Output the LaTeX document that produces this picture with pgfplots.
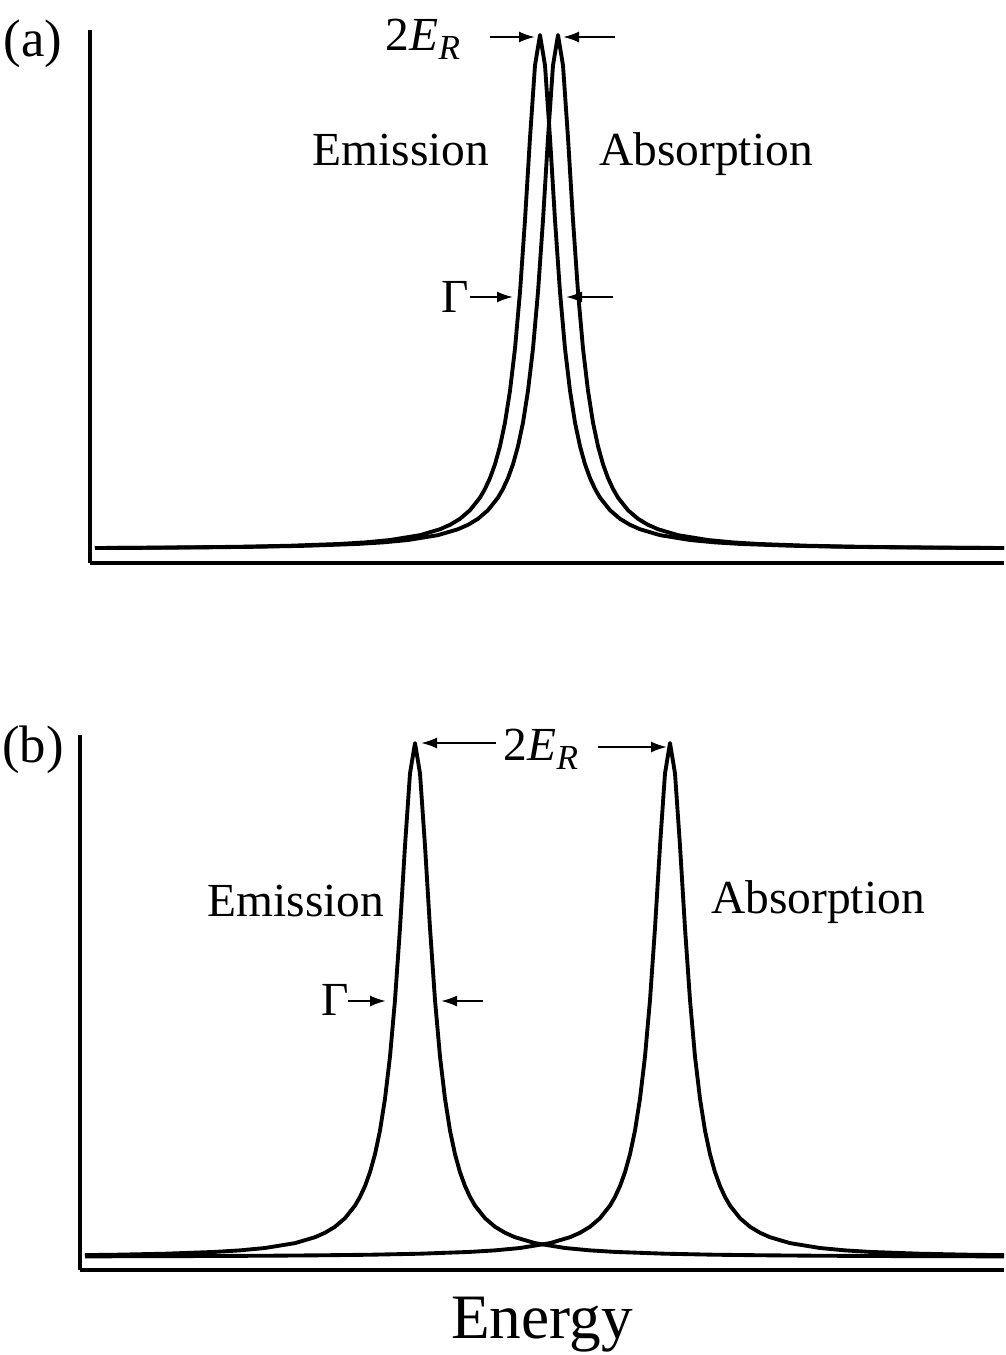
\documentclass[border=0pt]{standalone}
\usepackage{fontspec}
\setmainfont{Liberation Serif}
\usepackage{pgfplots}
\pgfplotsset{compat=1.18}
\usetikzlibrary{arrows.meta}

\pgfplotsset{
  spec/.style={
    scale only axis,
    axis x line=bottom, axis y line=left,
    axis line style={-, line width=1.1pt, black},
    xtick=\empty, ytick=\empty,
    clip=false,
  },
  curve/.style={black, line width=1.1pt, no markers, line join=round},
}
\tikzset{
  lbl/.style={font=\fontsize{13.5}{15}\selectfont, inner sep=0pt},
  arr/.style={line width=0.6pt, -{Latex[length=1.6mm, width=1.1mm]}},
}
\newcommand{\ER}{2\textit{E}\raisebox{-0.45ex}{\fontsize{10}{12}\selectfont\textit{R}}}

\begin{document}
\begin{tikzpicture}
% annotations, in pixel units of the reference (y downwards)
\begin{scope}[x=0.1mm, y=-0.1mm]
  \path[use as bounding box] (0,0) rectangle (1004,1355);
  % panel (a)
  \node[lbl, font=\fontsize{15}{17}\selectfont] at (33,44) {(a)};
  \node[lbl, anchor=base] at (423,50) {\ER};
  \draw[arr] (490,37) -- (535,37);
  \draw[arr] (615,37) -- (563,37);
  \node[lbl, anchor=base] at (401,165) {Emission};
  \node[lbl, anchor=base] at (706,165) {Absorption};
  \node[lbl] at (455,297) {Γ};
  \draw[arr] (470,297) -- (513,297);
  \draw[arr] (613,297) -- (566,297);
  % panel (b)
  \node[lbl, font=\fontsize{15}{17}\selectfont] at (33,750) {(b)};
  \node[lbl, anchor=base] at (541,760) {\ER};
  \draw[arr] (496,743) -- (421,743);
  \draw[arr] (598,747) -- (667,747);
  \node[lbl, anchor=base] at (296,916) {Emission};
  \node[lbl, anchor=base] at (818,913) {Absorption};
  \node[lbl] at (335,1000) {Γ};
  \draw[arr] (348,1001) -- (386,1001);
  \draw[arr] (483,1001) -- (441,1001);
  \node[lbl, anchor=base, font=\fontsize{18}{20}\selectfont] at (542,1338) {Energy};
\end{scope}

% panel (a)
\begin{axis}[spec, at={(9mm,-56.3mm)}, anchor=south west,
  width=91.4mm, height=53.3mm,
  xmin=90, xmax=1004, ymin=-0.0272, ymax=1.0097]
% emission
\addplot[curve] coordinates {
 (95,0.0020) (140,0.0025) (190,0.0033) (240,0.0044) (290,0.0064) (340,0.0099)
 (365,0.0129) (390,0.0175) (420,0.027) (440,0.0385) (450,0.0471) (460,0.0588)
 (470,0.0755) (480,0.1) (485,0.117) (490,0.138) (495,0.165) (500,0.2)
 (505,0.246) (510,0.308) (515,0.39) (520,0.5) (525,0.64) (530,0.8) (535,0.941)
 (540,1)
 (545,0.941) (550,0.8) (555,0.64) (560,0.5) (565,0.39) (570,0.308) (575,0.246)
 (580,0.2) (585,0.165) (590,0.138) (595,0.117) (600,0.1) (610,0.0755)
 (620,0.0588) (630,0.0471) (640,0.0385) (660,0.027) (690,0.0175) (715,0.0129)
 (740,0.0099) (790,0.0064) (840,0.0044) (890,0.0033) (940,0.0025) (1004,0.0019)
};
% absorption
\addplot[curve] coordinates {
 (95,0.0019) (158,0.0025) (208,0.0033) (258,0.0044) (308,0.0064) (358,0.0099)
 (383,0.0129) (408,0.0175) (438,0.027) (458,0.0385) (468,0.0471) (478,0.0588)
 (488,0.0755) (498,0.1) (503,0.117) (508,0.138) (513,0.165) (518,0.2)
 (523,0.246) (528,0.308) (533,0.39) (538,0.5) (543,0.64) (548,0.8) (553,0.941)
 (558,1)
 (563,0.941) (568,0.8) (573,0.64) (578,0.5) (583,0.39) (588,0.308) (593,0.246)
 (598,0.2) (603,0.165) (608,0.138) (613,0.117) (618,0.1) (628,0.0755)
 (638,0.0588) (648,0.0471) (658,0.0385) (678,0.027) (708,0.0175) (733,0.0129)
 (758,0.0099) (808,0.0064) (858,0.0044) (908,0.0033) (958,0.0025) (1004,0.0020)
};
\end{axis}

% panel (b)
\begin{axis}[spec, at={(8mm,-127mm)}, anchor=south west,
  width=92.4mm, height=53.5mm,
  xmin=80, xmax=1004, ymin=-0.0253, ymax=1.0156]
% emission
\addplot[curve] coordinates {
 (85,0.0037) (115,0.0044) (165,0.0064) (215,0.0099) (240,0.0129) (265,0.0175)
 (295,0.027) (315,0.0385) (325,0.0471) (335,0.0588) (345,0.0755) (355,0.1)
 (360,0.117) (365,0.138) (370,0.165) (375,0.2) (380,0.246) (385,0.308)
 (390,0.39) (395,0.5) (400,0.64) (405,0.8) (410,0.941)
 (415,1)
 (420,0.941) (425,0.8) (430,0.64) (435,0.5) (440,0.39) (445,0.308) (450,0.246)
 (455,0.2) (460,0.165) (465,0.138) (470,0.117) (475,0.1) (485,0.0755)
 (495,0.0588) (505,0.0471) (515,0.0385) (535,0.027) (565,0.0175) (590,0.0129)
 (615,0.0099) (665,0.0064) (715,0.0044) (765,0.0033) (815,0.0025) (915,0.0016)
 (1004,0.0012)
};
% absorption
\addplot[curve] coordinates {
 (85,0.0012) (170,0.0016) (270,0.0025) (320,0.0033) (370,0.0044) (420,0.0064)
 (470,0.0099) (495,0.0129) (520,0.0175) (550,0.027) (570,0.0385) (580,0.0471)
 (590,0.0588) (600,0.0755) (610,0.1) (615,0.117) (620,0.138) (625,0.165)
 (630,0.2) (635,0.246) (640,0.308) (645,0.39) (650,0.5) (655,0.64) (660,0.8)
 (665,0.941)
 (670,1)
 (675,0.941) (680,0.8) (685,0.64) (690,0.5) (695,0.39) (700,0.308) (705,0.246)
 (710,0.2) (715,0.165) (720,0.138) (725,0.117) (730,0.1) (740,0.0755)
 (750,0.0588) (760,0.0471) (770,0.0385) (790,0.027) (820,0.0175) (845,0.0129)
 (870,0.0099) (920,0.0064) (970,0.0044) (1004,0.0036)
};
\end{axis}
\end{tikzpicture}
\end{document}
